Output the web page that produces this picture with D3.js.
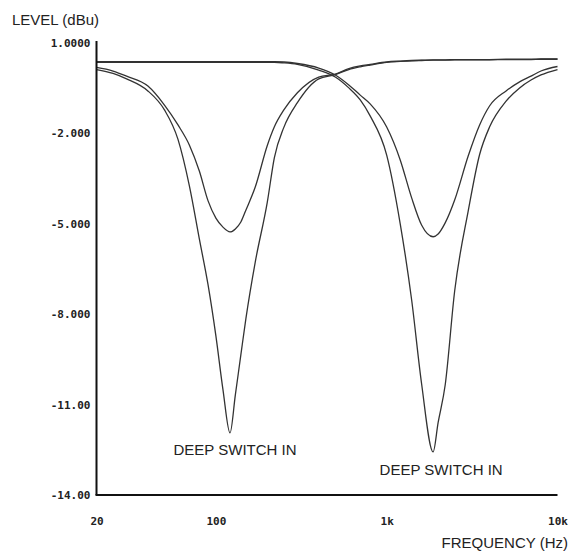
<!DOCTYPE html>
<html><head><meta charset="utf-8">
<script src="https://cdn.jsdelivr.net/npm/d3@7"></script>
<style>body{margin:0;background:#fff}</style>
</head><body>
<svg id="c" width="575" height="557"></svg>
<script>
const freqs = [20,25,30,40,50,60,70,80,90,100,110,121,130,140,150,170,200,220,250,300,400,500,600,700,800,1000,1200,1400,1600,1870,2000,2200,2500,3000,3500,4000,5000,6000,7000,8000,10000];
const lowNormal = [0.19,0.07,-0.10,-0.43,-1.06,-1.72,-2.39,-3.25,-4.24,-4.81,-5.11,-5.27,-5.17,-4.94,-4.54,-3.78,-2.40,-1.78,-1.22,-0.65,-0.13,-0.03,0.15,0.24,0.29,0.37,0.40,0.42,0.43,0.44,0.44,0.44,0.45,0.45,0.45,0.45,0.46,0.46,0.46,0.47,0.47];
const lowDeep   = [0.12,-0.01,-0.19,-0.59,-1.22,-2.20,-3.75,-5.5,-7.03,-8.72,-10.5,-11.94,-10.68,-9.35,-8.13,-6.27,-4.28,-2.80,-1.80,-0.98,-0.19,-0.05,0.12,0.21,0.27,0.36,0.39,0.41,0.42,0.43,0.43,0.43,0.44,0.44,0.44,0.44,0.45,0.45,0.45,0.46,0.46];
const highNormal= [0.38,0.38,0.38,0.38,0.38,0.38,0.38,0.38,0.38,0.38,0.38,0.38,0.38,0.38,0.38,0.38,0.38,0.38,0.37,0.32,0.17,-0.06,-0.39,-0.73,-1.02,-1.79,-2.88,-4.14,-5.04,-5.43,-5.34,-4.97,-4.21,-2.75,-1.72,-1.09,-0.59,-0.29,-0.10,0.07,0.22];
const highDeep  = [0.36,0.36,0.36,0.36,0.36,0.36,0.36,0.36,0.36,0.36,0.36,0.36,0.36,0.36,0.36,0.36,0.36,0.36,0.34,0.29,0.10,-0.13,-0.49,-0.89,-1.42,-2.72,-5.0,-7.53,-10.3,-12.57,-11.6,-10.35,-7.23,-4.58,-2.70,-1.79,-0.93,-0.49,-0.23,-0.06,0.12];
const yTicks = [1,-2,-5,-8,-11,-14];
const yTickLabels = ["1.0000","-2.000","-5.000","-8.000","-11.00","-14.00"];
const xTicks = [20,100,1000,10000];
const xTickLabels = ["20","100","1k","10k"];
const annotations = [{text:"DEEP SWITCH IN", f:121, v:-11.94},{text:"DEEP SWITCH IN", f:1870, v:-12.57}];

const svg = d3.select("#c");
const x = d3.scaleLog().domain([20,10000]).range([96.5,557.5]);
const y = d3.scaleLinear().domain([-14,1]).range([495,43]);

const line = d3.line().x(d=>x(d[0])).y(d=>y(d[1])).curve(d3.curveMonotoneX);
[lowNormal,lowDeep,highNormal,highDeep].forEach(s=>{
  svg.append("path").datum(freqs.map((f,i)=>[f,s[i]]))
    .attr("d",line).attr("fill","none").attr("stroke","#333").attr("stroke-width",1.3);
});

const ya = svg.append("g").attr("transform","translate(96.5,0)")
  .call(d3.axisLeft(y).tickValues(yTicks).tickSize(0).tickPadding(6)
    .tickFormat((d,i)=>yTickLabels[i]));
ya.select(".domain").attr("stroke","#111").attr("stroke-width",2).attr("d","M0,41V495");
ya.selectAll("text").attr("font-family","DejaVu Sans Mono").attr("font-weight","bold")
  .attr("font-size","11px").attr("fill","#222");

const xa = svg.append("g").attr("transform","translate(0,495)")
  .call(d3.axisBottom(x).tickValues(xTicks).tickSize(0).tickPadding(22)
    .tickFormat((d,i)=>xTickLabels[i]));
xa.select(".domain").attr("stroke","#111").attr("stroke-width",2).attr("d","M95.5,0H557.5");
xa.selectAll("text").attr("font-family","DejaVu Sans Mono").attr("font-weight","bold")
  .attr("font-size","11px").attr("fill","#222");

const lab = (t,xx,yy,anchor)=>svg.append("text").text(t).attr("x",xx).attr("y",yy)
  .attr("text-anchor",anchor||"start").attr("font-family","Liberation Sans, Arial, sans-serif")
  .attr("font-size","15px").attr("fill","#222");
lab("LEVEL (dBu)",12,25);
lab("FREQUENCY (Hz)",568,548,"end");
lab(annotations[0].text, x(annotations[0].f)+5, y(annotations[0].v)+22, "middle");
lab(annotations[1].text, x(annotations[1].f)+8, y(annotations[1].v)+23, "middle");
</script>
</body></html>
